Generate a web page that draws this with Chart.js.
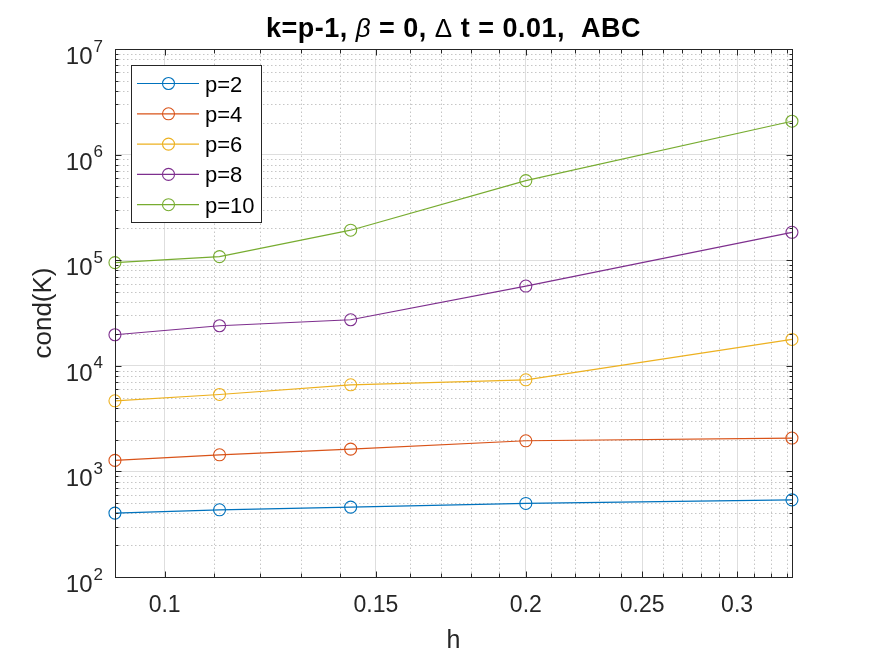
<!DOCTYPE html>
<html>
<head>
<meta charset="utf-8">
<script src="https://cdn.jsdelivr.net/npm/chart.js@4.4.1/dist/chart.umd.min.js"></script>
<style>
  html, body { margin: 0; padding: 0; background: #fff; }
  canvas { display: block; }
</style>
</head>
<body>
<canvas id="c" width="875" height="656"></canvas>
<script>
// mesh size h (1/11, 1/9, 1/7, 1/5, 1/3)
const H = [0.0909, 0.1111, 0.1429, 0.2, 0.3333]
const P2 = [403, 433, 459, 497, 538]
const P4 = [1271, 1436, 1626, 1950, 2069]
const P6 = [4660, 5350, 6610, 7370, 17760]
const P8 = [19680, 23950, 27290, 56920, 183700]
const P10 = [94900, 108100, 192300, 567000, 2070000]
const SERIES_NAMES = ['p=2', 'p=4', 'p=6', 'p=8', 'p=10']
const SERIES_COLORS = ['#0072BD', '#D95319', '#EDB120', '#7E2F8E', '#77AC30']
const X_TICKS = [0.1, 0.15, 0.2, 0.25, 0.3]
const X_TICK_LABELS = ['0.1', '0.15', '0.2', '0.25', '0.3']
const Y_EXPONENTS = [2, 3, 4, 5, 6, 7]

const FONT = "'Liberation Sans', Arial, Helvetica, sans-serif"
const AXIS_COLOR = '#262626'

function makeDataset(name, values, color) {
    const pts = []
    for (let i = 0; i < H.length; i++) {
        pts.push({x: H[i], y: values[i]})
    }
    return {
        label: name,
        data: pts,
        borderColor: color,
        borderWidth: 1.2,
        pointStyle: 'circle',
        pointRadius: 6,
        pointBorderWidth: 1.1,
        pointBorderColor: color,
        pointBackgroundColor: 'rgba(0,0,0,0)',
        tension: 0,
        clip: false
    }
}

const ALL = [P2, P4, P6, P8, P10]
const datasets = []
for (let i = 0; i < ALL.length; i++) {
    datasets.push(makeDataset(SERIES_NAMES[i], ALL[i], SERIES_COLORS[i]))
}

function xMinors() {
    const out = []
    for (let i = 10; i <= 33; i++) {
        const v = i / 100
        if (X_TICKS.indexOf(v) < 0) out.push(v)
    }
    return out
}
function yMinors() {
    const out = []
    for (let e = 2; e < 7; e++) {
        for (let k = 2; k <= 9; k++) out.push(k * Math.pow(10, e))
    }
    return out
}

// matlab style: dotted minor grid, inward ticks, box, 10^n labels, legend, title
const matlabLook = {
    id: 'matlabLook',
    beforeDatasetsDraw(chart) {
        const ctx = chart.ctx
        const a = chart.chartArea
        const xs = chart.scales.x
        const ys = chart.scales.y
        ctx.save()
        ctx.strokeStyle = '#c6c6c6'
        ctx.lineWidth = 1
        ctx.setLineDash([1.5, 2.5])
        for (const v of xMinors()) {
            const px = Math.round(xs.getPixelForValue(v)) + 0.5
            ctx.beginPath()
            ctx.moveTo(px, a.bottom)
            ctx.lineTo(px, a.top)
            ctx.stroke()
        }
        for (const v of yMinors()) {
            const py = Math.round(ys.getPixelForValue(v)) + 0.5
            ctx.beginPath()
            ctx.moveTo(a.left, py)
            ctx.lineTo(a.right, py)
            ctx.stroke()
        }
        ctx.restore()
    },
    afterDatasetsDraw(chart) {
        const ctx = chart.ctx
        const a = chart.chartArea
        const xs = chart.scales.x
        const ys = chart.scales.y
        ctx.save()
        ctx.strokeStyle = AXIS_COLOR
        ctx.lineWidth = 1
        ctx.setLineDash([])
        const L = Math.round(a.left) + 0.5, R = Math.round(a.right) + 0.5
        const T = Math.round(a.top) + 0.5, B = Math.round(a.bottom) + 0.5
        // ticks
        ctx.beginPath()
        const xt = X_TICKS.map(v => [v, 6]).concat(xMinors().map(v => [v, 4]))
        for (const [v, len] of xt) {
            const px = Math.round(xs.getPixelForValue(v)) + 0.5
            ctx.moveTo(px, B); ctx.lineTo(px, B - len)
            ctx.moveTo(px, T); ctx.lineTo(px, T + len)
        }
        const yt = Y_EXPONENTS.map(e => [Math.pow(10, e), 6]).concat(yMinors().map(v => [v, 3]))
        for (const [v, len] of yt) {
            const py = Math.round(ys.getPixelForValue(v)) + 0.5
            ctx.moveTo(L, py); ctx.lineTo(L + len, py)
            ctx.moveTo(R, py); ctx.lineTo(R - len, py)
        }
        ctx.stroke()
        ctx.strokeRect(L, T, R - L, B - T)

        // y tick labels 10^n
        ctx.fillStyle = AXIS_COLOR
        ctx.textBaseline = 'alphabetic'
        ctx.textAlign = 'left'
        for (const e of Y_EXPONENTS) {
            const py = ys.getPixelForValue(Math.pow(10, e))
            ctx.font = '17px ' + FONT
            const ew = ctx.measureText(String(e)).width
            ctx.font = '24px ' + FONT
            const bw = ctx.measureText('10').width
            const right = a.left - 12
            ctx.fillText('10', right - ew - 1 - bw, py + 15)
            ctx.font = '17px ' + FONT
            ctx.fillText(String(e), right - ew, py + 2.5)
        }

        // legend
        const lx = 131.5, ly = 65.5, lw = 130, lh = 157
        ctx.fillStyle = '#ffffff'
        ctx.fillRect(lx, ly, lw, lh)
        ctx.strokeStyle = AXIS_COLOR
        ctx.strokeRect(lx, ly, lw, lh)
        for (let i = 0; i < SERIES_NAMES.length; i++) {
            const y = 83.5 + i * 30.3
            ctx.strokeStyle = SERIES_COLORS[i]
            ctx.lineWidth = 1.2
            ctx.beginPath()
            ctx.moveTo(137, y); ctx.lineTo(199, y)
            ctx.stroke()
            ctx.lineWidth = 1.1
            ctx.beginPath()
            ctx.arc(168.5, y, 6, 0, Math.PI * 2)
            ctx.stroke()
            ctx.fillStyle = '#000000'
            ctx.font = '22px ' + FONT
            ctx.fillText(SERIES_NAMES[i], 205, y + 8)
        }

        // title with mixed fonts
        const parts = [
            ['k=p-1, ', 'bold 27px ' + FONT],
            ['\u03b2', 'italic 26px ' + FONT],
            [' = 0, ', 'bold 27px ' + FONT],
            ['\u0394', '26px ' + FONT],
            [' t = 0.01,  ABC', 'bold 27px ' + FONT]
        ]
        ctx.letterSpacing = '0.5px'
        let total = 0
        for (const [t, f] of parts) { ctx.font = f; total += ctx.measureText(t).width }
        let x = (a.left + a.right) / 2 - total / 2
        ctx.fillStyle = '#000000'
        for (const [t, f] of parts) {
            ctx.font = f
            ctx.fillText(t, x, 37)
            x += ctx.measureText(t).width
        }
        ctx.restore()
    }
}

new Chart(document.getElementById('c'), {
    type: 'line',
    data: { datasets: datasets },
    options: {
        responsive: false,
        animation: false,
        devicePixelRatio: 1,
        layout: { padding: { top: 49, right: 83, bottom: 0, left: 0 } },
        plugins: {
            legend: { display: false },
            title: { display: false },
            tooltip: { enabled: false }
        },
        scales: {
            x: {
                type: 'logarithmic',
                min: 1 / 11,
                max: 1 / 3,
                afterBuildTicks: (s) => { s.ticks = X_TICKS.map(v => ({value: v})) },
                afterFit: (s) => { s.height = 79 },
                border: { display: false },
                grid: { color: '#dedede', lineWidth: 1, drawTicks: false },
                ticks: {
                    autoSkip: false,
                    maxRotation: 0,
                    padding: 15,
                    color: AXIS_COLOR,
                    font: { family: FONT, size: 23 },
                    callback: (v) => {
                        const i = X_TICKS.indexOf(v)
                        return i >= 0 ? X_TICK_LABELS[i] : ''
                    }
                },
                title: {
                    display: true,
                    text: 'h',
                    color: AXIS_COLOR,
                    font: { family: FONT, size: 25 },
                    padding: { top: 1, bottom: 0 }
                }
            },
            y: {
                type: 'logarithmic',
                min: 100,
                max: 1e7,
                afterBuildTicks: (s) => { s.ticks = Y_EXPONENTS.map(e => ({value: Math.pow(10, e)})) },
                afterFit: (s) => { s.width = 115 },
                border: { display: false },
                grid: { color: '#dedede', lineWidth: 1, drawTicks: false },
                ticks: { display: false },
                title: {
                    display: true,
                    text: 'cond(K)',
                    color: AXIS_COLOR,
                    font: { family: FONT, size: 26 },
                    padding: { top: 28, bottom: 0 }
                }
            }
        }
    },
    plugins: [matlabLook]
})
</script>
</body>
</html>
